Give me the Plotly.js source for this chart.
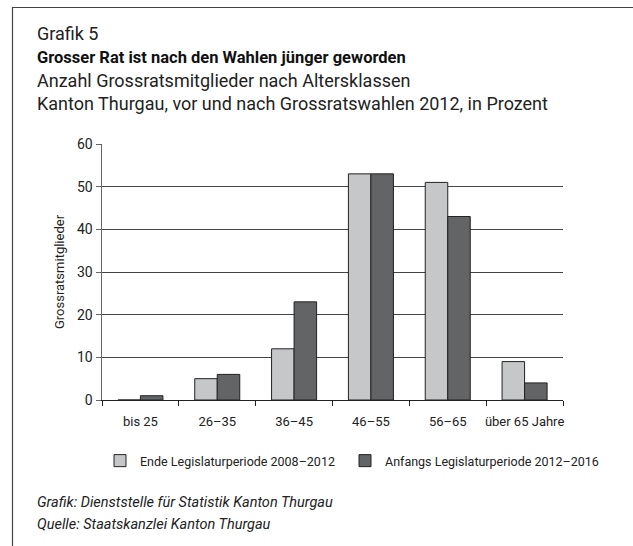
<!DOCTYPE html>
<html>
<head>
<meta charset="utf-8">
<script src="https://cdn.plot.ly/plotly-3.0.1.min.js"></script>
<style>
html,body{margin:0;padding:0;background:#fff;}
#chart{width:633px;height:546px;}
</style>
</head>
<body>
<div id="chart"></div>
<script>
var categories = ["bis 25", "26–35", "36–45", "46–55", "56–65", "über 65 Jahre"];
var seriesNames = ["Ende Legislaturperiode 2008–2012", "Anfangs Legislaturperiode 2012–2016"];
var valuesEnde = [0, 5, 12, 53, 51, 9];
var valuesAnfang = [1, 6, 23, 53, 43, 4];
var yTicks = [0, 10, 20, 30, 40, 50, 60];

var FONT = "Roboto, 'DejaVu Sans Condensed', sans-serif";
var W = 633, H = 546;
var M = {l: 102, r: 70, t: 144, b: 146};
var PW = W - M.l - M.r, PH = H - M.t - M.b;
function px(x){ return (x - M.l) / PW; }
function py(y){ return (H - M.b - y) / PH; }

var traces = [
  {type: "bar", name: seriesNames[0], x: categories, y: valuesEnde,
   marker: {color: "#c6c7c9", line: {color: "#222", width: 1}}, legend: "legend"},
  {type: "bar", name: seriesNames[1], x: categories, y: valuesAnfang,
   marker: {color: "#636466", line: {color: "#222", width: 1}}, legend: "legend2"}
];

var layout = {
  width: W, height: H,
  margin: M,
  paper_bgcolor: "#fff", plot_bgcolor: "#fff",
  font: {family: FONT, size: 13, color: "#222"},
  barmode: "group", bargap: 0.414, bargroupgap: 0,
  showlegend: true,
  xaxis: {type: "category", showline: true, linecolor: "#222", linewidth: 1,
          ticks: "outside", tickson: "boundaries", ticklen: 5, tickcolor: "#222", tickangle: 0,
          ticklabelstandoff: 9,
          showgrid: false, tickfont: {family: FONT, size: 13, color: "#222"}, fixedrange: true},
  yaxis: {range: [0, 60], tickvals: yTicks, showline: true, linecolor: "#666", linewidth: 1.5,
          ticks: "outside", ticklen: 5, tickcolor: "#666", showgrid: true, gridcolor: "#444", gridwidth: 1,
          zeroline: false, tickfont: {family: FONT, size: 14, color: "#222"},
          title: {text: "Grossratsmitglieder", font: {family: FONT, size: 13, color: "#222"}, standoff: 9}},
  legend: {orientation: "h", x: px(100), y: py(461), xanchor: "left", yanchor: "middle", bgcolor: "rgba(0,0,0,0)",
           font: {family: FONT, size: 12.5, color: "#222"}, itemwidth: 30},
  legend2: {orientation: "h", x: px(345), y: py(461), xanchor: "left", yanchor: "middle", bgcolor: "rgba(0,0,0,0)",
           font: {family: FONT, size: 12.5, color: "#222"}, itemwidth: 30},
  shapes: [
    {type: "path", xref: "paper", yref: "paper",
     path: "M " + px(12.5) + "," + py(546) + " L " + px(12.5) + "," + py(7.5) + " L " + px(633) + "," + py(7.5),
     line: {color: "#444", width: 1.2}}
  ],
  annotations: [
    {text: "Grafik 5", x: px(35), y: py(33), xref: "paper", yref: "paper", xanchor: "left", yanchor: "middle", showarrow: false, font: {family: FONT, size: 18, color: "#222"}},
    {text: "<b>Grosser Rat ist nach den Wahlen jünger geworden</b>", x: px(35), y: py(57), xref: "paper", yref: "paper", xanchor: "left", yanchor: "middle", showarrow: false, font: {family: FONT, size: 16.5, color: "#111"}},
    {text: "Anzahl Grossratsmitglieder nach Altersklassen", x: px(35), y: py(80), xref: "paper", yref: "paper", xanchor: "left", yanchor: "middle", showarrow: false, font: {family: FONT, size: 18, color: "#222"}},
    {text: "Kanton Thurgau, vor und nach Grossratswahlen 2012, in Prozent", x: px(35), y: py(103), xref: "paper", yref: "paper", xanchor: "left", yanchor: "middle", showarrow: false, font: {family: FONT, size: 18, color: "#222"}},
    {text: "<i>Grafik: Dienststelle für Statistik Kanton Thurgau</i>", x: px(35), y: py(502), xref: "paper", yref: "paper", xanchor: "left", yanchor: "middle", showarrow: false, font: {family: FONT, size: 14.5, color: "#222"}},
    {text: "<i>Quelle: Staatskanzlei Kanton Thurgau</i>", x: px(35), y: py(524), xref: "paper", yref: "paper", xanchor: "left", yanchor: "middle", showarrow: false, font: {family: FONT, size: 14.5, color: "#222"}}
  ]
};

Plotly.newPlot("chart", traces, layout, {displayModeBar: false, staticPlot: true});
</script>
</body>
</html>
